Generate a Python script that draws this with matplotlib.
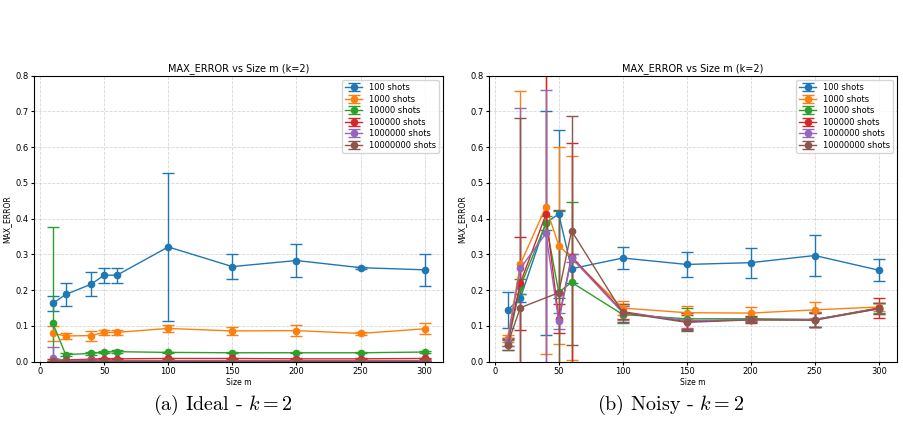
import numpy as np
from matplotlib import pyplot as plt

sizes = [10, 20, 40, 50, 60, 100, 150, 200, 250, 300]
labels = ['100 shots', '1000 shots', '10000 shots', '100000 shots',
          '1000000 shots', '10000000 shots']
colors = ['#1f77b4', '#ff7f0e', '#2ca02c', '#d62728', '#9467bd', '#8c564b']

# Ideal (k=2) : mean and error per shot count
ideal_100 = [0.163, 0.188, 0.217, 0.242, 0.242, 0.321, 0.266, 0.283, 0.263, 0.257]
ideal_100_err = [0.022, 0.031, 0.033, 0.021, 0.021, 0.207, 0.035, 0.047, 0.003, 0.044]
ideal_1k = [0.079, 0.072, 0.073, 0.082, 0.082, 0.093, 0.086, 0.087, 0.079, 0.092]
ideal_1k_err = [0.022, 0.009, 0.014, 0.006, 0.006, 0.011, 0.011, 0.015, 0.003, 0.015]
ideal_10k = [0.107, 0.020, 0.023, 0.027, 0.028, 0.026, 0.025, 0.025, 0.025, 0.027]
ideal_10k_err = [0.271, 0.003, 0.004, 0.004, 0.004, 0.002, 0.002, 0.002, 0.002, 0.002]
ideal_100k = [0.005, 0.005, 0.007, 0.008, 0.008, 0.009, 0.009, 0.008, 0.008, 0.009]
ideal_100k_err = [0.002, 0.001, 0.001, 0.001, 0.001, 0.001, 0.001, 0.001, 0.001, 0.001]
ideal_1m = [0.011, 0.003, 0.004, 0.003, 0.003, 0.003, 0.003, 0.003, 0.003, 0.003]
ideal_1m_err = [0.029, 0.001, 0.001, 0.001, 0.001, 0.001, 0.001, 0.001, 0.001, 0.001]
ideal_10m = [0.002, 0.001, 0.001, 0.001, 0.001, 0.001, 0.001, 0.001, 0.001, 0.001]
ideal_10m_err = [0.001, 0.000, 0.000, 0.000, 0.000, 0.000, 0.000, 0.000, 0.000, 0.000]

# Noisy (k=2)
noisy_100 = [0.144, 0.178, 0.389, 0.413, 0.260, 0.290, 0.272, 0.277, 0.297, 0.256]
noisy_100_err = [0.051, 0.010, 0.313, 0.236, 0.040, 0.031, 0.034, 0.042, 0.058, 0.030]
noisy_1k = [0.065, 0.273, 0.433, 0.325, 0.290, 0.150, 0.137, 0.136, 0.145, 0.153]
noisy_1k_err = [0.010, 0.485, 0.412, 0.276, 0.284, 0.020, 0.018, 0.018, 0.022, 0.010]
noisy_10k = [0.047, 0.210, 0.387, 0.194, 0.222, 0.132, 0.120, 0.120, 0.118, 0.150]
noisy_10k_err = [0.015, 0.020, 0.020, 0.228, 0.225, 0.025, 0.030, 0.005, 0.020, 0.015]
noisy_100k = [0.055, 0.220, 0.412, 0.120, 0.294, 0.140, 0.112, 0.118, 0.117, 0.150]
noisy_100k_err = [0.010, 0.130, 0.420, 0.040, 0.317, 0.020, 0.020, 0.010, 0.020, 0.027]
noisy_1m = [0.055, 0.261, 0.359, 0.113, 0.290, 0.137, 0.115, 0.118, 0.118, 0.148]
noisy_1m_err = [0.010, 0.450, 0.400, 0.022, 0.010, 0.020, 0.020, 0.005, 0.020, 0.015]
noisy_10m = [0.048, 0.151, np.nan, 0.193, 0.366, 0.137, 0.110, 0.117, 0.116, 0.148]
noisy_10m_err = [0.015, 0.530, np.nan, 0.232, 0.320, 0.025, 0.025, 0.005, 0.020, 0.015]

ideal = [(ideal_100, ideal_100_err), (ideal_1k, ideal_1k_err), (ideal_10k, ideal_10k_err),
         (ideal_100k, ideal_100k_err), (ideal_1m, ideal_1m_err), (ideal_10m, ideal_10m_err)]
noisy = [(noisy_100, noisy_100_err), (noisy_1k, noisy_1k_err), (noisy_10k, noisy_10k_err),
         (noisy_100k, noisy_100k_err), (noisy_1m, noisy_1m_err), (noisy_10m, noisy_10m_err)]

plt.rcParams['mathtext.fontset'] = 'cm'

fig = plt.figure(figsize=(9.04, 4.34), dpi=100)
axIdeal = fig.add_axes([0.0379, 0.1666, 0.4524, 0.659])
axNoisy = fig.add_axes([0.5409, 0.1666, 0.4517, 0.659])


def draw(ax, series):
    x = np.array(sizes, dtype=float)
    for (vals, errs), lab, col in zip(series, labels, colors):
        y = np.array(vals, dtype=float)
        e = np.array(errs, dtype=float)
        ok = ~np.isnan(y)
        ax.errorbar(x[ok], y[ok], yerr=e[ok], fmt='-o', color=col, label=lab,
                    capsize=4, markersize=4.5, linewidth=1.0, elinewidth=1.0,
                    capthick=1.0)
    ax.set_ylim(0, 0.8)
    ax.set_xticks([0, 50, 100, 150, 200, 250, 300])
    ax.set_title('MAX_ERROR vs Size m (k=2)', fontsize=7, pad=3)
    ax.set_xlabel('Size m', fontsize=5.5, labelpad=1)
    ax.set_ylabel('MAX_ERROR', fontsize=5.5, labelpad=3)
    ax.tick_params(labelsize=6, length=2.5, pad=1.5)
    ax.grid(True, linestyle='--', alpha=0.5, linewidth=0.6)
    ax.legend(loc='upper right', fontsize=6, handlelength=2.0, labelspacing=0.3)


draw(axIdeal, ideal)
draw(axNoisy, noisy)

fig.text(0.247, 0.066, r'(a) Ideal - $k = 2$', ha='center', va='center',
         fontsize=14.5, family='cmr10')
fig.text(0.742, 0.066, r'(b) Noisy - $k = 2$', ha='center', va='center',
         fontsize=14.5, family='cmr10')

fig.savefig('out.png', dpi=100)
